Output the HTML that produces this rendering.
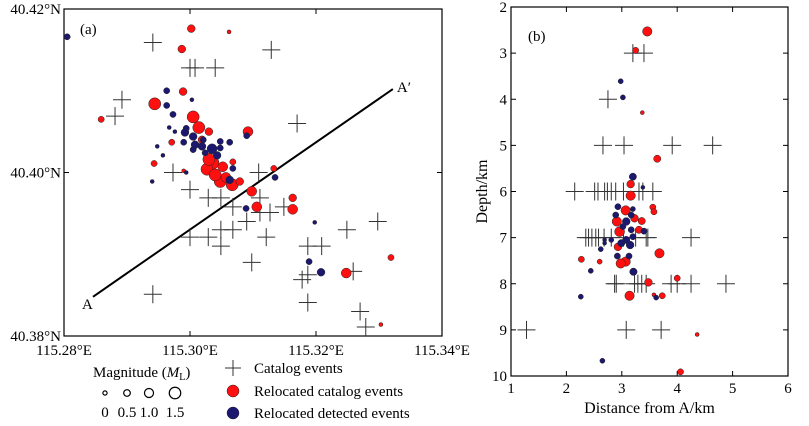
<!DOCTYPE html>
<html><head><meta charset="utf-8"><style>
body{margin:0;background:#fff;width:809px;height:426px;overflow:hidden}
svg{display:block;font-family:"Liberation Serif",serif}
</style></head><body>
<svg id="chart" width="809" height="426" viewBox="0 0 809 426" xmlns="http://www.w3.org/2000/svg"></svg>
<script>
// ---------- Panel (a) data: lon, lat, magnitude ----------
const catLon=[115.2941,115.3000,115.3008,115.3040,115.3129,115.2892,115.2881,115.3170,115.2973,115.3109,115.3000,115.3029,115.3049,115.3111,115.3068,115.3111,115.3127,115.3149,115.3090,115.3049,115.3068,115.3000,115.3029,115.3121,115.3049,115.3098,115.3187,115.3209,115.3249,115.3298,115.3178,115.3187,115.3259,115.2941,115.3187,115.3270,115.3279];
const catLat=[40.4159,40.4128,40.4128,40.4128,40.4150,40.4089,40.4069,40.4060,40.4000,40.4000,40.3979,40.3969,40.3969,40.3969,40.3958,40.3951,40.3951,40.3958,40.3940,40.3930,40.3930,40.3921,40.3921,40.3921,40.3910,40.3890,40.3910,40.3910,40.3930,40.3940,40.3869,40.3875,40.3879,40.3851,40.3841,40.3830,40.3811];
const redLon=[115.3002,115.3062,115.2987,115.2989,115.2944,115.2859,115.3005,115.3014,115.3030,115.3092,115.2971,115.2943,115.2990,115.3035,115.3027,115.3052,115.3068,115.3133,115.3048,115.3067,115.3079,115.3098,115.3163,115.3106,115.3163,115.3248,115.3319,115.3303,115.3019,115.3030,115.3040,115.3057];
const redLat=[40.4176,40.4172,40.4151,40.4099,40.4084,40.4065,40.4068,40.4055,40.4050,40.4050,40.4037,40.4011,40.4002,40.4012,40.4004,40.4007,40.4013,40.4005,40.3989,40.3985,40.3989,40.3977,40.3969,40.3958,40.3955,40.3877,40.3896,40.3814,40.4040,40.4016,40.3997,40.3994];
const redMag=[0.7,0,0.7,0.7,1.5,0.4,1.5,1.5,0.7,1.1,0.4,0.4,0,1.8,1.5,1.1,0.4,0.4,1.5,1.5,0.7,1.1,0.7,1.1,1.1,1.1,0.4,0,0.7,1.5,1.5,1.1];
const bluLon=[115.2805,115.2963,115.3003,115.2963,115.2973,115.2967,115.2976,115.2994,115.2992,115.3005,115.3021,115.3048,115.3063,115.2990,115.2948,115.3008,115.3019,115.3035,115.3048,115.3005,115.3024,115.3043,115.2957,115.2994,115.2940,115.3068,115.3063,115.3090,115.3135,115.3089,115.3198,115.3189,115.3208];
const bluLat=[40.4166,40.4100,40.4089,40.4082,40.4071,40.4055,40.4050,40.4054,40.4049,40.4044,40.4040,40.4038,40.4037,40.4037,40.4032,40.4034,40.4032,40.4029,40.4030,40.4028,40.4024,40.4021,40.4021,40.4000,40.3989,40.4005,40.3991,40.4045,40.3994,40.3956,40.3939,40.3891,40.3878];
const bluMag=[0.4,0.4,0,0.4,0.4,0,0,0.4,0.7,0.7,0.4,0.4,0.4,0.4,0,0.7,0.7,1.1,0.4,0.4,0.4,0.7,0,0,0,0.4,0.7,0.4,0.4,0.4,0,0.4,0.7];
const profLon=[115.2846,115.3322];
const profLat=[40.3848,40.4102];
const lonTicks=[115.28,115.30,115.32,115.34];
const lonLabels=["115.28°E","115.30°E","115.32°E","115.34°E"];
const latTicks=[40.38,40.40,40.42];
const latLabels=["40.38°N","40.40°N","40.42°N"];
// ---------- Panel (b) data: distance (km), depth (km), magnitude ----------
const bCatDist=[3.20,3.40,2.75,2.66,3.04,3.91,4.64,2.15,2.51,2.57,2.69,2.74,2.81,2.89,3.03,3.31,3.38,3.56,2.35,2.40,2.46,2.53,2.58,2.68,2.81,3.03,3.25,3.44,3.47,4.25,2.87,2.90,3.23,3.29,3.36,3.44,3.89,4.00,4.25,4.88,1.28,3.08,3.71];
const bCatDep=[3,3,4,5,5,5,5,6,6,6,6,6,6,6,6,6,6,6,7,7,7,7,7,7,7,7,7,7,7,7,8,8,8,8,8,8,8,8,8,8,9,9,9];
const bRedDist=[3.46,3.25,3.37,3.64,3.16,3.16,3.56,3.58,3.07,3.23,3.36,2.91,2.96,3.31,2.93,3.68,2.27,2.60,3.07,2.98,3.21,3.48,4.00,3.14,3.73,3.58,4.36,4.06];
const bRedDep=[2.53,2.94,4.29,5.29,5.84,6.09,6.34,6.44,6.41,6.58,6.64,6.65,6.87,6.83,7.20,7.34,7.47,7.52,7.52,7.56,7.74,7.97,7.88,8.26,8.26,8.24,9.10,9.91];
const bRedMag=[1.0,0.4,0,0.6,0.7,1.0,0.4,0.4,1.0,0.7,0.6,1.0,1.1,0.6,0.7,1.0,0.4,0.2,1.0,1.0,0.6,0.7,0.4,1.0,0.4,0,0,0.4];
const bBluDist=[2.98,3.02,3.20,3.38,2.93,3.20,2.89,3.08,3.17,3.02,3.17,3.40,3.20,3.08,2.99,3.15,2.81,2.69,2.69,2.62,3.13,2.92,3.21,2.44,2.26,3.62,2.65];
const bBluDep=[3.61,3.96,5.68,5.91,6.33,6.38,6.51,6.65,6.51,6.76,6.83,6.86,6.98,7.05,7.12,7.16,7.05,7.05,7.12,7.25,7.40,7.40,7.74,7.72,8.28,8.30,9.67];
const bBluMag=[0.2,0.2,0.6,0,0.4,0.2,0.4,0.7,0.4,0.4,0.4,0.4,0.4,0.6,0.6,0.7,0.2,0,0,0.2,0.4,0.4,0.6,0.2,0.2,0.2,0.2];
const distTicks=[1,2,3,4,5,6];
const depthTicks=[2,3,4,5,6,7,8,9,10];
const legendMags=[0,0.5,1.0,1.5];
const legendMagLabels=["0","0.5","1.0","1.5"];

const NS="http://www.w3.org/2000/svg";
const svg=document.getElementById('chart');
function mk(tag,attrs,parent,text){const e=document.createElementNS(NS,tag);for(const k in attrs)e.setAttribute(k,attrs[k]);if(text!==undefined)e.textContent=text;(parent||svg).appendChild(e);return e;}
const A={x0:64,x1:442,y0:9,y1:336,lon0:115.28,lon1:115.34,lat0:40.38,lat1:40.42};
const ax=v=>A.x0+(v-A.lon0)/(A.lon1-A.lon0)*(A.x1-A.x0);
const ay=v=>A.y1-(v-A.lat0)/(A.lat1-A.lat0)*(A.y1-A.y0);
const B={x0:511,x1:788,y0:7,y1:376,d0:1,d1:6,z0:2,z1:10};
const bx=v=>B.x0+(v-B.d0)/(B.d1-B.d0)*(B.x1-B.x0);
const by=v=>B.y0+(v-B.z0)/(B.z1-B.z0)*(B.y1-B.y0);
const rad=m=>2+2.7*m;
const RED="#ff1010",BLUE="#1c1870";

function cross(g,x,y,s,name){const c=mk('path',{d:`M${x-s} ${y}H${x+s}M${x} ${y-s}V${y+s}`,stroke:'#333',"stroke-width":1,fill:'none'},g);

}
function dot(g,x,y,r,fill,name){const c=mk('circle',{cx:x,cy:y,r:r,fill:fill,stroke:'#222',"stroke-width":0.5},g);

}

// ===== Panel A =====
const ga=mk('g',{});


const fa=mk('rect',{x:A.x0,y:A.y0,width:A.x1-A.x0,height:A.y1-A.y0,fill:'none',stroke:'#000',"stroke-width":1.2},ga);


lonTicks.forEach((t,i)=>{const x=ax(t);
 mk('path',{d:`M${x} ${A.y1}v-5M${x} ${A.y0}v5`,stroke:'#000'},ga);
 const tx=mk('text',{x:x,y:A.y1+19,"text-anchor":"middle","font-size":15},ga,lonLabels[i]);
 
 });
latTicks.forEach((t,i)=>{const y=ay(t);
 mk('path',{d:`M${A.x0} ${y}h5M${A.x1} ${y}h-5`,stroke:'#000'},ga);
 const tx=mk('text',{x:A.x0-3,y:y+5,"text-anchor":"end","font-size":15},ga,latLabels[i]);
 
 });
const pl=mk('line',{x1:ax(profLon[0]),y1:ay(profLat[0]),x2:ax(profLon[1]),y2:ay(profLat[1]),stroke:'#000',"stroke-width":2},ga);


const la=mk('text',{x:ax(profLon[0])-11,y:ay(profLat[0])+12,"font-size":15},ga,"A");


const la2=mk('text',{x:ax(profLon[1])+4,y:ay(profLat[1])+3,"font-size":15},ga,"A′");


const pa=mk('text',{x:80,y:34,"font-size":15},ga,"(a)");


catLon.forEach((v,i)=>cross(ga,ax(v),ay(catLat[i]),9,'catalog-event'));
redLon.forEach((v,i)=>dot(ga,ax(v),ay(redLat[i]),rad(redMag[i]),RED,'relocated-catalog-event'));
bluLon.forEach((v,i)=>dot(ga,ax(v),ay(bluLat[i]),rad(bluMag[i]),BLUE,'relocated-detected-event'));

// ===== Panel B =====
const gb=mk('g',{});


const fb=mk('rect',{x:B.x0,y:B.y0,width:B.x1-B.x0,height:B.y1-B.y0,fill:'none',stroke:'#000',"stroke-width":1.2},gb);


distTicks.forEach(t=>{const x=bx(t);
 mk('path',{d:`M${x} ${B.y1}v-5M${x} ${B.y0}v5`,stroke:'#000'},gb);
 const tx=mk('text',{x:x,y:B.y1+17,"text-anchor":"middle","font-size":15},gb,String(t));
 
 });
depthTicks.forEach(t=>{const y=by(t);
 mk('path',{d:`M${B.x0} ${y}h5M${B.x1} ${y}h-5`,stroke:'#000'},gb);
 const tx=mk('text',{x:B.x0-4,y:y+5,"text-anchor":"end","font-size":15},gb,String(t));
 
 });
const xt=mk('text',{x:(B.x0+B.x1)/2,y:413,"text-anchor":"middle","font-size":16},gb,"Distance from A/km");


const yt=mk('text',{x:0,y:0,"text-anchor":"middle","font-size":16,transform:`translate(487,${(B.y0+B.y1)/2}) rotate(-90)`},gb,"Depth/km");


const pb=mk('text',{x:528,y:41,"font-size":15},gb,"(b)");


bCatDist.forEach((v,i)=>cross(gb,bx(v),by(bCatDep[i]),9,'catalog-event'));
bRedDist.forEach((v,i)=>dot(gb,bx(v),by(bRedDep[i]),rad(bRedMag[i]),RED,'relocated-catalog-event'));
bBluDist.forEach((v,i)=>dot(gb,bx(v),by(bBluDep[i]),rad(bBluMag[i]),BLUE,'relocated-detected-event'));

// ===== Legend =====
const lg=mk('g',{});


const lt=mk('text',{x:93,y:377,"font-size":15},lg);


lt.innerHTML='Magnitude (<tspan font-style="italic">M</tspan><tspan font-size="10" dy="3">L</tspan><tspan dy="-3">)</tspan>';
const lxs=[105,127,149,175];
legendMags.forEach((m,i)=>{
 const c=mk('circle',{cx:lxs[i],cy:393,r:rad(m)*0.9+0.3,fill:'none',stroke:'#000',"stroke-width":1.2},lg);
 
 
 const t=mk('text',{x:lxs[i],y:417,"text-anchor":"middle","font-size":15},lg,legendMagLabels[i]);
 
 });
cross(lg,233,368,8,'legend-catalog-symbol');
dot(lg,233,391,6,RED,'legend-relocated-catalog-symbol');
dot(lg,233,413,6,BLUE,'legend-relocated-detected-symbol');
[["Catalog events",373],["Relocated catalog events",396],["Relocated detected events",418]].forEach(a=>{
 const t=mk('text',{x:254,y:a[1],"font-size":15},lg,a[0]);
 
 });
</script>
</body></html>
